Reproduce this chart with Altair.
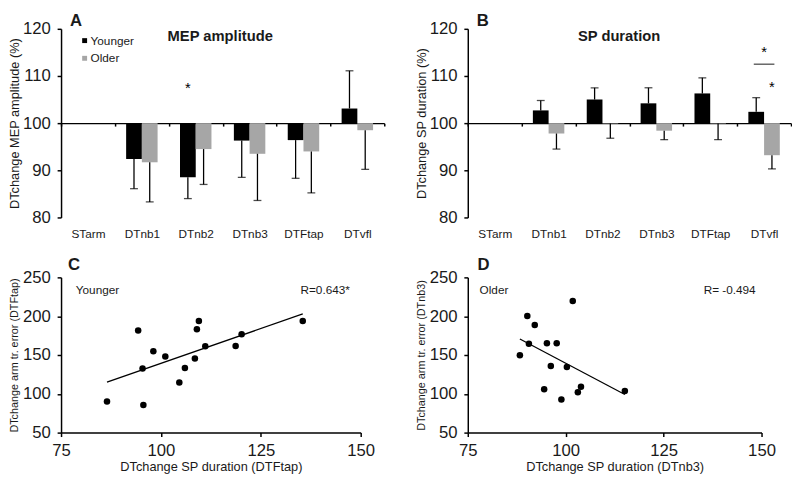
import altair as alt
import pandas as pd

FONT = "Liberation Sans"
TXT = "#1a1a1a"

cats = ["STarm", "DTnb1", "DTnb2", "DTnb3", "DTFtap", "DTvfl"]
groups = ["Younger", "Older"]
bar_colors = ["#000000", "#a6a6a6"]

# Panel A: MEP amplitude (bar end, error-bar end)
mep_young = [None, 92.4, 88.5, 96.3, 96.4, 103.1]
mep_young_err = [None, 86.1, 84.0, 88.5, 88.3, 111.1]
mep_old = [None, 91.7, 94.5, 93.5, 94.0, 98.5]
mep_old_err = [None, 83.3, 87.0, 83.6, 85.2, 90.2]

# Panel B: SP duration
sp_young = [None, 102.7, 105.0, 104.2, 106.3, 102.4]
sp_young_err = [None, 104.8, 107.5, 107.5, 109.6, 105.4]
sp_old = [None, 97.8, 99.9, 98.4, 99.9, 93.2]
sp_old_err = [None, 94.5, 96.8, 96.5, 96.5, 90.3]

# significance marks
a_star_cat, a_star_group, a_star_y = ["DTnb2"], ["Younger"], [107.6]
b_star_cat, b_star_group, b_star_y = ["DTvfl"], ["Older"], [107.8]
b_pair_cat, b_pair_line_y, b_pair_star_y = ["DTvfl"], [112.5], [115.3]

# Panel C: Younger, SP duration (DTFtap) vs arm tr. error (DTFtap)
c_x = [86.5, 94.3, 95.4, 95.6, 98.1, 101.1, 104.6, 106.0, 108.5, 109.0, 109.5, 111.1, 118.7, 120.2, 135.5]
c_y = [90.2, 181.5, 132.5, 85.5, 154.9, 148.1, 114.7, 133.3, 145.6, 183.2, 193.8, 161.2, 161.6, 176.8, 193.8]

# Panel D: Older, SP duration (DTnb3) vs arm tr. error (DTnb3)
d_x = [88.3, 90.2, 90.6, 92.1, 94.5, 95.2, 96.2, 97.7, 98.9, 100.3, 101.8, 103.1, 103.9, 115.1]
d_y = [149.8, 200.1, 164.6, 188.7, 105.8, 165.0, 135.8, 165.0, 92.7, 134.6, 219.6, 102.0, 109.2, 103.7]


def bar_df(young, young_err, old, old_err):
    rows = []
    for i, c in enumerate(cats):
        for g, v, e in (("Younger", young[i], young_err[i]), ("Older", old[i], old_err[i])):
            if v is not None:
                rows.append({"cat": c, "group": g, "value": v, "err": e})
    return pd.DataFrame(rows)


def label_layer(text, x, y, size, weight="normal", align="left", baseline="middle"):
    return alt.Chart(pd.DataFrame({"t": [text]})).mark_text(
        font=FONT, fontSize=size, fontWeight=weight, align=align, baseline=baseline, color=TXT
    ).encode(text="t:N", x=alt.value(x), y=alt.value(y))


def bar_panel(df, ytitle, letter, title, title_x, show_legend, extra_layers):
    W, H = 329, 192
    xenc = alt.X(
        "cat:N",
        scale=alt.Scale(domain=cats, paddingInner=0, paddingOuter=0),
        axis=alt.Axis(title=None, offset=-96, tickBand="extent", tickSize=3, labelPadding=104,
                      labelFontSize=12, labelAngle=0, grid=False),
    )
    xoff = alt.XOffset("group:N", scale=alt.Scale(domain=groups, paddingInner=0, paddingOuter=0.7125))
    yenc = alt.Y(
        "value:Q",
        scale=alt.Scale(domain=[80, 120], nice=False),
        axis=alt.Axis(values=[80, 90, 100, 110, 120], title=ytitle, titleFontSize=13,
                      titlePadding=1, labelPadding=7, labelFontSize=17, grid=False),
    )
    legend = (alt.Legend(orient="none", legendX=18, legendY=6, title=None, symbolType="square",
                         symbolSize=25, labelFontSize=12, rowPadding=6, labelOffset=0, padding=0,
                         symbolStrokeWidth=0, labelColor=TXT, labelFont=FONT)
              if show_legend else None)
    base = alt.Chart(df)
    bars = base.mark_bar().encode(
        x=xenc, xOffset=xoff, y=yenc, y2=alt.datum(100),
        color=alt.Color("group:N", scale=alt.Scale(domain=groups, range=bar_colors), legend=legend),
    )
    rules = base.mark_rule(color="black", strokeWidth=1.3).encode(
        x=xenc, xOffset=xoff, y=yenc, y2="err:Q")
    caps = base.mark_tick(color="black", size=8, thickness=1.3).encode(
        x=xenc, xOffset=xoff, y=alt.Y("err:Q"))
    layers = [bars, rules, caps] + extra_layers(xenc, xoff) + [
        label_layer(letter, 9, -15.5, 17, "bold", baseline="top"),
        label_layer(title, title_x, 7, 15, "bold", align="center"),
    ]
    return alt.layer(*layers).properties(width=W, height=H)


def star(df, xenc, xoff, field):
    enc = dict(x=xenc, y=alt.Y(field))
    if xoff is not None:
        enc["xOffset"] = xoff
    return alt.Chart(df).mark_text(text="*", fontSize=15, dy=1, color="black", font=FONT).encode(**enc)


def a_extra(xenc, xoff):
    s = pd.DataFrame({"cat": a_star_cat, "group": a_star_group, "y": a_star_y})
    return [star(s, xenc, xoff, "y:Q")]


def b_extra(xenc, xoff):
    s1 = pd.DataFrame({"cat": b_star_cat, "group": b_star_group, "y": b_star_y})
    s2 = pd.DataFrame({"cat": b_pair_cat, "ly": b_pair_line_y, "sy": b_pair_star_y})
    return [
        star(s1, xenc, xoff, "y:Q"),
        alt.Chart(s2).mark_tick(color="black", size=21, thickness=1.3).encode(x=xenc, y=alt.Y("ly:Q")),
        star(s2, xenc, None, "sy:Q"),
    ]


def scatter_panel(xs, ys, width, xtitle, ytitle, letter, letter_x, grp, grp_x, rtext, r_x):
    H = 158
    df = pd.DataFrame({"x": xs, "y": ys})
    xenc = alt.X("x:Q", scale=alt.Scale(domain=[75, 150], nice=False, zero=False),
                 axis=alt.Axis(values=[75, 100, 125, 150], title=xtitle, titleFontSize=13,
                               titlePadding=3, labelPadding=6, labelFontSize=17, labelFlush=False,
                               grid=False))
    yenc = alt.Y("y:Q", scale=alt.Scale(domain=[50, 250], nice=False, zero=False),
                 axis=alt.Axis(values=[50, 100, 150, 200, 250], title=ytitle, titleFontSize=11,
                               titlePadding=3, labelPadding=7, labelFontSize=17, grid=False))
    pts = alt.Chart(df).mark_circle(size=44, color="black", opacity=1).encode(x=xenc, y=yenc)
    line = alt.Chart(df).transform_regression("x", "y").mark_line(color="black", strokeWidth=1.3).encode(
        x=xenc, y=yenc)
    return alt.layer(
        line, pts,
        label_layer(letter, letter_x, -21, 17, "bold", baseline="top"),
        label_layer(grp, grp_x, 13, 12),
        label_layer(rtext, r_x, 13, 12, align="right"),
    ).properties(width=width, height=H)


A = bar_panel(bar_df(mep_young, mep_young_err, mep_old, mep_old_err),
              "DTchange MEP amplitude (%)", "A", "MEP amplitude", 162, True, a_extra)
B = bar_panel(bar_df(sp_young, sp_young_err, sp_old, sp_old_err),
              "DTchange SP duration (%)", "B", "SP duration", 154, False, b_extra)
C = scatter_panel(c_x, c_y, 305, "DTchange SP duration (DTFtap)", "DTchange arm tr. error (DTFtap)",
                  "C", 7, "Younger", 15, "R=0.643*", 294)
D = scatter_panel(d_x, d_y, 299, "DTchange SP duration (DTnb3)", "DTchange arm tr. error (DTnb3)",
                  "D", 10, "Older", 12, "R= -0.494", 293)

top = alt.hconcat(A, B, spacing=30).resolve_scale(color="independent")
bottom = alt.hconcat(C, D, spacing=40)

chart = (
    alt.vconcat(top, bottom, spacing=17)
    .properties(padding=0)
    .configure(font=FONT)
    .configure_view(stroke=None)
    .configure_axis(
        domainColor="black", tickColor="black", labelColor=TXT, titleColor=TXT,
        labelFont=FONT, titleFont=FONT, titleFontWeight="normal",
        domainWidth=1.5, tickWidth=1.5, tickSize=4,
    )
)

chart.save("out.html", embed_options={"renderer": "svg", "actions": False})
